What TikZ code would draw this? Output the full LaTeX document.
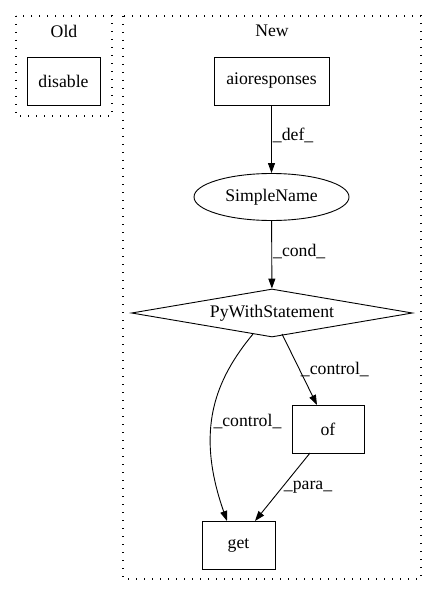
\documentclass[tikz,border=0pt]{standalone}
\usepackage{fontspec}
\setmainfont{Liberation Serif}
\usetikzlibrary{shapes.geometric,arrows.meta}
\begin{document}
\begin{tikzpicture}[x=1pt,y=-1pt,
  every node/.style={font=\fontsize{17.7}{20}\selectfont},
  cluster/.style={draw,line width=1.1pt,dash pattern=on 1.1pt off 6.9pt},
  box/.style={draw,rectangle,line width=0.9pt,minimum width=#1,minimum height=48pt,inner sep=0pt},
  box/.default=72pt,
  lbl/.style={font=\fontsize{17.7}{20}\selectfont,inner sep=1pt},
  edge/.style={-{Triangle[length=10pt,width=7pt]},line width=0.9pt}]
\useasboundingbox (0,0) rectangle (437,596);
\draw[cluster] (16,16) rectangle (112,116);
\draw[cluster] (123,16) rectangle (421,579);
\node (oldl) at (64,31) {Old};
\node (newl) at (272,31) {New};
\node[box=73pt] (disable) at (63.5,81) {disable};
\node[box=115pt] (aio) at (271.5,81) {aioresponses};
\node[draw,line width=0.9pt,ellipse,minimum width=155pt,minimum height=47pt,inner sep=0pt] (sn) at (271.5,197) {SimpleName};
\node[draw,line width=0.9pt,diamond,aspect=5.85,minimum width=281pt,minimum height=48pt,inner sep=0pt] (pw) at (272,313) {PyWithStatement};
\node[box=72pt] (of) at (328,429) {of};
\node[box=73pt] (get) at (238.5,545) {get};
\draw[edge] (aio) -- node[lbl,right,pos=0.45] {\_def\_} (sn);
\draw[edge] (sn) -- node[lbl,right,pos=0.45] {\_cond\_} (pw);
\coordinate (pwr) at (282,334);
\coordinate (oft) at (317,405);
\draw[edge] (pwr) -- node[lbl,right,pos=0.5] {\_control\_} (oft);
\coordinate (pwl) at (253,334);
\coordinate (getl) at (227,521);
\draw[edge] (pwl) .. controls (215,380) and (195,430) .. node[lbl,right,pos=0.56] {\_control\_} (getl);
\coordinate (ofb) at (310,453);
\coordinate (getr) at (255,521);
\draw[edge] (ofb) -- node[lbl,right,pos=0.5] {\_para\_} (getr);
\end{tikzpicture}
\end{document}
